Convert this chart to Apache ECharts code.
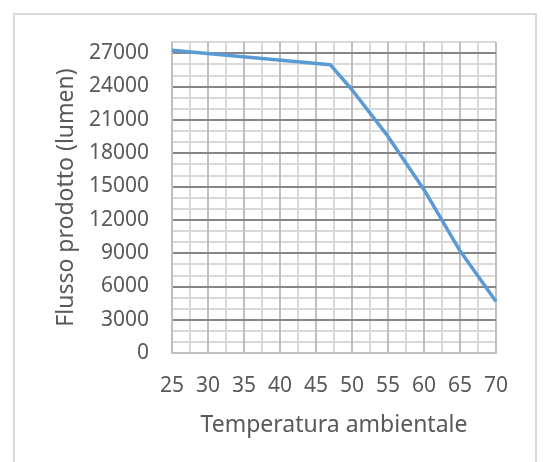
<!DOCTYPE html>
<html>
<head>
<meta charset="utf-8">
<script src="https://cdn.jsdelivr.net/npm/echarts@6/dist/echarts.min.js"></script>
<style>
html,body{margin:0;padding:0;background:#fff;}
#frame{position:absolute;left:13px;top:13px;width:524px;height:470px;border:2px solid #d9d9d9;box-sizing:border-box;}
#chart{position:absolute;left:0;top:0;width:543px;height:462px;}
</style>
</head>
<body>
<div id="frame"></div>
<div id="chart"></div>
<script>
// Data
var temperatures = [25, 47, 50, 55, 60, 65, 70];
var fluxValues   = [27250, 25950, 23700, 19500, 14700, 9200, 4640];
var xAxisTitle = 'Temperatura ambientale';
var yAxisTitle = 'Flusso prodotto (lumen)';
var xMin = 25, xMax = 70, xStep = 5;
var yMin = 0, yMax = 28000, yStep = 3000, yMinorStep = 1000;

var points = temperatures.map(function (t, i) { return [t, fluxValues[i]]; });
var textColor = '#595959';
var fontFamily = '"Noto Sans", sans-serif';

var chart = echarts.init(document.getElementById('chart'), null, {renderer: 'canvas'});
chart.setOption({
  animation: false,
  backgroundColor: 'transparent',
  grid: {left: 172, top: 42, right: 47, bottom: 109, containLabel: false},
  xAxis: {
    type: 'value', min: xMin, max: xMax, interval: xStep, z: 2,
    name: xAxisTitle, nameLocation: 'middle', nameGap: 61,
    nameTextStyle: {color: textColor, fontSize: 23, fontFamily: fontFamily},
    axisLine: {show: true, lineStyle: {color: '#bfbfbf', width: 2}},
    axisTick: {show: false},
    axisLabel: {color: textColor, fontSize: 21, fontFamily: fontFamily, margin: 23,
      formatter: function (v) { return String(v); }},
    splitLine: {show: true, lineStyle: {color: '#bfbfbf', width: 2}},
    minorTick: {show: false, splitNumber: 2},
    minorSplitLine: {show: true, lineStyle: {color: '#d9d9d9', width: 2}}
  },
  yAxis: [{
    type: 'value', min: yMin, max: yMax, interval: yStep, z: 3,
    name: yAxisTitle, nameLocation: 'middle', nameGap: 92, nameRotate: 90,
    nameTextStyle: {color: textColor, fontSize: 23, fontFamily: fontFamily},
    axisLine: {show: true, lineStyle: {color: '#bfbfbf', width: 2}},
    axisTick: {show: false},
    axisLabel: {color: textColor, fontSize: 21, fontFamily: fontFamily, margin: 23, showMaxLabel: false,
      formatter: function (v) { return String(v); }},
    splitLine: {show: true, showMinLine: false, showMaxLine: false, lineStyle: {color: '#868686', width: 2}}
  }, {
    type: 'value', min: yMin, max: yMax, interval: yMinorStep, z: 1, position: 'left',
    axisLine: {show: false}, axisTick: {show: false}, axisLabel: {show: false},
    splitLine: {show: true, lineStyle: {color: '#d9d9d9', width: 2}}
  }],
  series: [{
    type: 'line', data: points, yAxisIndex: 0, z: 10,
    showSymbol: false, symbol: 'none', smooth: false,
    lineStyle: {color: '#5b9bd5', width: 3.5},
    clip: true
  }]
});
</script>
</body>
</html>
